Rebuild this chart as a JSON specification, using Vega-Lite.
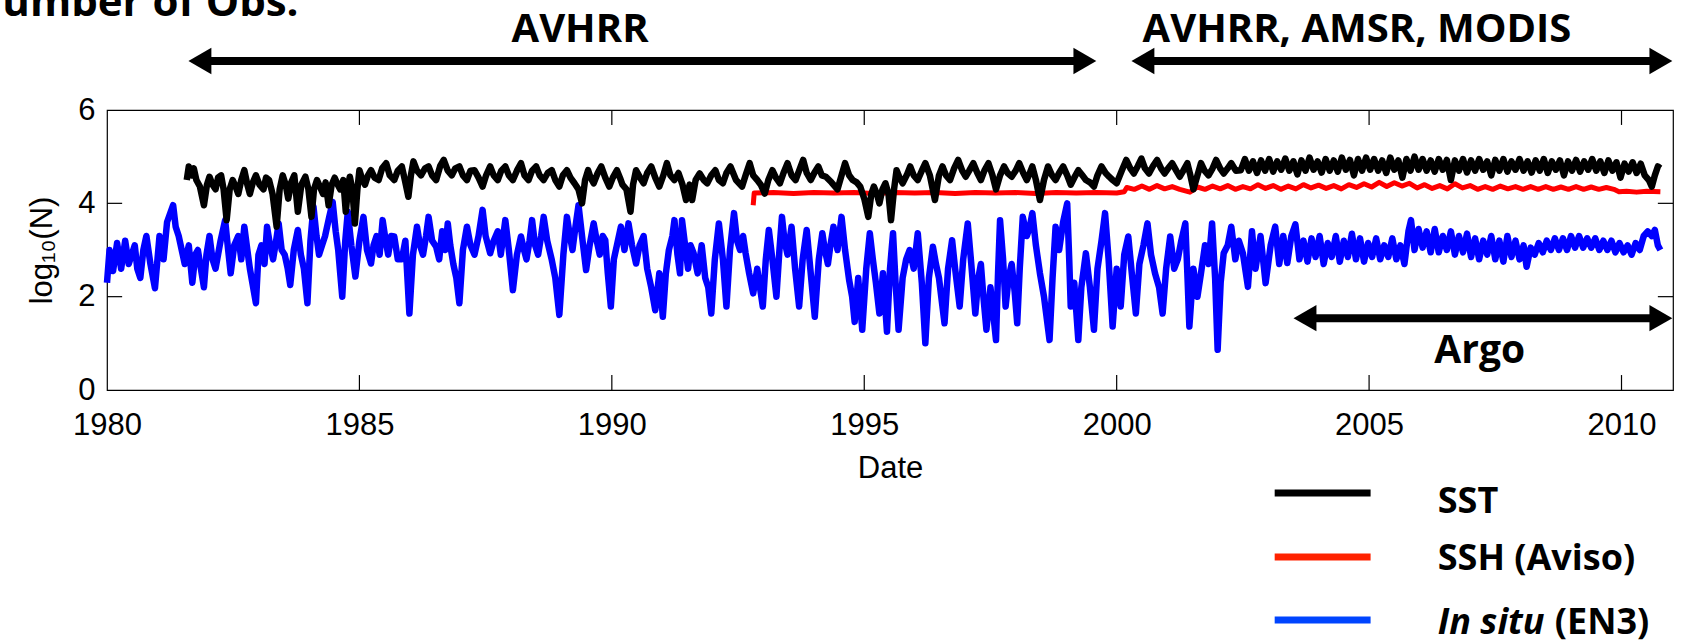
{
"$schema": "https://vega.github.io/schema/vega-lite/v6.json",
"autosize": {"type": "none"},
"width": 1566, "height": 280,
"padding": {"left": 107, "top": 110, "right": 9, "bottom": 251},
"background": "white",
"config": {"view": {"stroke": "black", "strokeWidth": 1.2}},
"datasets": {
"insitu": [
{"t":1980.0,"v":2.3},{"t":1980.05,"v":3.0},{"t":1980.12,"v":2.55},{"t":1980.2,"v":3.15},{"t":1980.28,"v":2.6},{"t":1980.36,"v":3.2},{"t":1980.43,"v":2.7},{"t":1980.55,"v":3.1},{"t":1980.6,"v":2.6},{"t":1980.66,"v":2.4},{"t":1980.72,"v":3.0},{"t":1980.78,"v":3.3},{"t":1980.86,"v":2.7},{"t":1980.95,"v":2.18},{"t":1981.04,"v":3.3},{"t":1981.12,"v":2.8},{"t":1981.19,"v":3.6},{"t":1981.31,"v":3.96},{"t":1981.36,"v":3.5},{"t":1981.42,"v":3.3},{"t":1981.48,"v":3.0},{"t":1981.54,"v":2.7},{"t":1981.62,"v":3.1},{"t":1981.69,"v":2.3},{"t":1981.75,"v":2.9},{"t":1981.8,"v":3.0},{"t":1981.86,"v":2.6},{"t":1981.92,"v":2.2},{"t":1981.97,"v":2.9},{"t":1982.03,"v":3.3},{"t":1982.09,"v":2.8},{"t":1982.15,"v":2.6},{"t":1982.25,"v":3.2},{"t":1982.34,"v":3.64},{"t":1982.4,"v":3.0},{"t":1982.45,"v":2.5},{"t":1982.52,"v":3.1},{"t":1982.6,"v":3.3},{"t":1982.66,"v":2.8},{"t":1982.72,"v":3.5},{"t":1982.78,"v":3.0},{"t":1982.83,"v":2.6},{"t":1982.95,"v":1.86},{"t":1983.0,"v":2.9},{"t":1983.06,"v":3.1},{"t":1983.12,"v":2.7},{"t":1983.17,"v":3.5},{"t":1983.23,"v":3.1},{"t":1983.29,"v":2.8},{"t":1983.35,"v":3.2},{"t":1983.4,"v":3.57},{"t":1983.46,"v":3.0},{"t":1983.52,"v":2.9},{"t":1983.58,"v":2.6},{"t":1983.63,"v":2.25},{"t":1983.7,"v":3.0},{"t":1983.78,"v":3.43},{"t":1983.84,"v":2.9},{"t":1983.9,"v":2.6},{"t":1983.97,"v":1.86},{"t":1984.03,"v":3.2},{"t":1984.09,"v":3.93},{"t":1984.15,"v":3.3},{"t":1984.2,"v":2.9},{"t":1984.26,"v":3.1},{"t":1984.32,"v":3.3},{"t":1984.4,"v":3.7},{"t":1984.47,"v":4.03},{"t":1984.53,"v":3.4},{"t":1984.58,"v":3.0},{"t":1984.66,"v":2.0},{"t":1984.72,"v":3.2},{"t":1984.77,"v":3.82},{"t":1984.84,"v":3.1},{"t":1984.92,"v":2.43},{"t":1985.0,"v":3.2},{"t":1985.08,"v":3.71},{"t":1985.15,"v":3.0},{"t":1985.23,"v":2.71},{"t":1985.28,"v":3.1},{"t":1985.34,"v":3.3},{"t":1985.4,"v":2.9},{"t":1985.46,"v":3.64},{"t":1985.52,"v":3.2},{"t":1985.57,"v":2.9},{"t":1985.63,"v":3.3},{"t":1985.69,"v":3.29},{"t":1985.76,"v":2.8},{"t":1985.84,"v":2.8},{"t":1985.91,"v":3.2},{"t":1985.99,"v":1.64},{"t":1986.06,"v":2.9},{"t":1986.14,"v":3.5},{"t":1986.2,"v":3.1},{"t":1986.26,"v":2.9},{"t":1986.32,"v":3.3},{"t":1986.37,"v":3.71},{"t":1986.44,"v":3.2},{"t":1986.52,"v":3.07},{"t":1986.58,"v":2.8},{"t":1986.64,"v":3.4},{"t":1986.7,"v":3.0},{"t":1986.75,"v":3.57},{"t":1986.8,"v":3.1},{"t":1986.86,"v":2.7},{"t":1986.92,"v":2.4},{"t":1986.98,"v":1.86},{"t":1987.05,"v":3.0},{"t":1987.13,"v":3.5},{"t":1987.2,"v":3.1},{"t":1987.28,"v":2.9},{"t":1987.36,"v":3.3},{"t":1987.44,"v":3.86},{"t":1987.5,"v":3.3},{"t":1987.59,"v":2.93},{"t":1987.66,"v":3.2},{"t":1987.74,"v":3.4},{"t":1987.8,"v":2.9},{"t":1987.89,"v":3.64},{"t":1987.96,"v":3.0},{"t":1988.04,"v":2.14},{"t":1988.12,"v":2.9},{"t":1988.2,"v":3.29},{"t":1988.26,"v":3.0},{"t":1988.31,"v":2.8},{"t":1988.37,"v":3.2},{"t":1988.42,"v":3.64},{"t":1988.48,"v":3.1},{"t":1988.54,"v":2.9},{"t":1988.6,"v":3.3},{"t":1988.65,"v":3.71},{"t":1988.72,"v":3.2},{"t":1988.81,"v":2.79},{"t":1988.88,"v":2.4},{"t":1988.96,"v":1.61},{"t":1989.04,"v":2.9},{"t":1989.11,"v":3.71},{"t":1989.17,"v":3.3},{"t":1989.22,"v":3.0},{"t":1989.28,"v":3.5},{"t":1989.34,"v":3.96},{"t":1989.42,"v":3.2},{"t":1989.49,"v":2.57},{"t":1989.56,"v":3.1},{"t":1989.64,"v":3.57},{"t":1989.7,"v":3.2},{"t":1989.76,"v":2.9},{"t":1989.82,"v":3.3},{"t":1989.87,"v":3.21},{"t":1989.92,"v":2.5},{"t":1989.98,"v":1.79},{"t":1990.04,"v":2.8},{"t":1990.1,"v":3.1},{"t":1990.18,"v":3.5},{"t":1990.25,"v":3.0},{"t":1990.33,"v":3.57},{"t":1990.4,"v":3.1},{"t":1990.48,"v":2.71},{"t":1990.55,"v":3.1},{"t":1990.63,"v":3.3},{"t":1990.7,"v":2.6},{"t":1990.78,"v":2.2},{"t":1990.86,"v":1.71},{"t":1990.94,"v":2.5},{"t":1991.01,"v":1.57},{"t":1991.07,"v":2.5},{"t":1991.13,"v":3.0},{"t":1991.2,"v":3.3},{"t":1991.24,"v":3.64},{"t":1991.3,"v":2.9},{"t":1991.35,"v":2.5},{"t":1991.39,"v":3.64},{"t":1991.44,"v":3.2},{"t":1991.51,"v":2.6},{"t":1991.56,"v":3.1},{"t":1991.62,"v":2.93},{"t":1991.7,"v":2.5},{"t":1991.78,"v":3.1},{"t":1991.85,"v":2.4},{"t":1991.91,"v":2.2},{"t":1991.97,"v":1.64},{"t":1992.04,"v":2.8},{"t":1992.12,"v":3.57},{"t":1992.2,"v":2.8},{"t":1992.27,"v":1.79},{"t":1992.34,"v":3.0},{"t":1992.42,"v":3.79},{"t":1992.48,"v":3.2},{"t":1992.54,"v":3.0},{"t":1992.6,"v":3.3},{"t":1992.65,"v":2.93},{"t":1992.72,"v":2.5},{"t":1992.8,"v":2.07},{"t":1992.88,"v":2.6},{"t":1992.99,"v":1.79},{"t":1993.05,"v":2.8},{"t":1993.11,"v":3.43},{"t":1993.18,"v":2.8},{"t":1993.26,"v":2.0},{"t":1993.32,"v":3.0},{"t":1993.37,"v":3.71},{"t":1993.42,"v":3.2},{"t":1993.48,"v":2.9},{"t":1993.56,"v":3.5},{"t":1993.63,"v":2.6},{"t":1993.71,"v":1.79},{"t":1993.78,"v":2.8},{"t":1993.86,"v":3.43},{"t":1993.94,"v":2.5},{"t":1994.02,"v":1.57},{"t":1994.1,"v":2.8},{"t":1994.17,"v":3.36},{"t":1994.22,"v":3.0},{"t":1994.28,"v":2.7},{"t":1994.33,"v":3.1},{"t":1994.39,"v":3.5},{"t":1994.47,"v":3.0},{"t":1994.55,"v":3.71},{"t":1994.62,"v":3.0},{"t":1994.7,"v":2.36},{"t":1994.76,"v":2.0},{"t":1994.81,"v":1.46},{"t":1994.88,"v":2.4},{"t":1994.96,"v":1.29},{"t":1995.04,"v":2.6},{"t":1995.11,"v":3.36},{"t":1995.17,"v":2.8},{"t":1995.23,"v":2.3},{"t":1995.3,"v":1.64},{"t":1995.37,"v":2.5},{"t":1995.45,"v":1.25},{"t":1995.51,"v":2.6},{"t":1995.57,"v":3.36},{"t":1995.62,"v":2.3},{"t":1995.68,"v":1.29},{"t":1995.76,"v":2.4},{"t":1995.83,"v":2.8},{"t":1995.9,"v":3.0},{"t":1995.98,"v":2.6},{"t":1996.06,"v":3.36},{"t":1996.14,"v":2.3},{"t":1996.21,"v":1.0},{"t":1996.28,"v":2.4},{"t":1996.36,"v":3.07},{"t":1996.42,"v":2.7},{"t":1996.48,"v":2.4},{"t":1996.59,"v":1.43},{"t":1996.66,"v":2.6},{"t":1996.74,"v":3.21},{"t":1996.8,"v":2.6},{"t":1996.89,"v":1.79},{"t":1996.96,"v":2.8},{"t":1997.05,"v":3.57},{"t":1997.12,"v":2.7},{"t":1997.2,"v":1.64},{"t":1997.26,"v":2.4},{"t":1997.31,"v":2.7},{"t":1997.36,"v":2.0},{"t":1997.42,"v":1.29},{"t":1997.5,"v":2.2},{"t":1997.61,"v":1.07},{"t":1997.65,"v":2.5},{"t":1997.69,"v":3.64},{"t":1997.75,"v":2.8},{"t":1997.8,"v":1.79},{"t":1997.86,"v":2.4},{"t":1997.92,"v":2.7},{"t":1997.98,"v":2.1},{"t":1998.03,"v":1.43},{"t":1998.08,"v":2.6},{"t":1998.14,"v":3.71},{"t":1998.22,"v":3.3},{"t":1998.28,"v":3.5},{"t":1998.33,"v":3.79},{"t":1998.4,"v":3.1},{"t":1998.48,"v":2.5},{"t":1998.56,"v":2.0},{"t":1998.67,"v":1.07},{"t":1998.73,"v":2.4},{"t":1998.79,"v":3.5},{"t":1998.86,"v":3.0},{"t":1998.94,"v":3.6},{"t":1999.02,"v":4.0},{"t":1999.06,"v":2.8},{"t":1999.09,"v":1.79},{"t":1999.16,"v":2.3},{"t":1999.24,"v":1.07},{"t":1999.3,"v":2.2},{"t":1999.39,"v":2.93},{"t":1999.47,"v":2.2},{"t":1999.55,"v":1.29},{"t":1999.62,"v":2.6},{"t":1999.7,"v":3.2},{"t":1999.77,"v":3.79},{"t":1999.84,"v":2.8},{"t":1999.92,"v":1.36},{"t":2000.0,"v":2.6},{"t":2000.08,"v":1.79},{"t":2000.15,"v":2.9},{"t":2000.23,"v":3.29},{"t":2000.3,"v":2.5},{"t":2000.38,"v":1.64},{"t":2000.45,"v":2.7},{"t":2000.53,"v":3.1},{"t":2000.61,"v":3.57},{"t":2000.68,"v":2.9},{"t":2000.76,"v":2.5},{"t":2000.84,"v":2.2},{"t":2000.91,"v":1.64},{"t":2000.98,"v":2.6},{"t":2001.06,"v":3.29},{"t":2001.14,"v":2.6},{"t":2001.21,"v":2.8},{"t":2001.28,"v":3.2},{"t":2001.36,"v":3.57},{"t":2001.4,"v":2.5},{"t":2001.44,"v":1.36},{"t":2001.52,"v":2.6},{"t":2001.6,"v":2.0},{"t":2001.67,"v":2.5},{"t":2001.75,"v":3.1},{"t":2001.82,"v":2.7},{"t":2001.89,"v":3.57},{"t":2001.95,"v":2.4},{"t":2002.0,"v":0.86},{"t":2002.06,"v":2.3},{"t":2002.12,"v":2.93},{"t":2002.2,"v":3.1},{"t":2002.27,"v":3.5},{"t":2002.35,"v":2.8},{"t":2002.42,"v":3.2},{"t":2002.5,"v":2.93},
{"t":2002.6,"v":2.21},{"t":2002.68,"v":3.4},{"t":2002.75,"v":2.6},{"t":2002.85,"v":3.3},{"t":2002.95,"v":2.29},{"t":2003.05,"v":3.1},{"t":2003.14,"v":3.5},{"t":2003.22,"v":2.7},{"t":2003.3,"v":3.3},{"t":2003.38,"v":2.72},{"t":2003.46,"v":3.3},{"t":2003.54,"v":3.55},{"t":2003.62,"v":2.8},{"t":2003.7,"v":3.2},{"t":2003.78,"v":2.75},{"t":2003.86,"v":3.25},{"t":2003.94,"v":2.85},{"t":2004.02,"v":3.3},{"t":2004.1,"v":2.7},{"t":2004.18,"v":3.15},{"t":2004.26,"v":2.85},{"t":2004.34,"v":3.3},{"t":2004.42,"v":2.75},{"t":2004.5,"v":3.2},{"t":2004.58,"v":2.85},{"t":2004.66,"v":3.35},{"t":2004.74,"v":2.8},{"t":2004.82,"v":3.25},{"t":2004.9,"v":2.75},{"t":2004.98,"v":3.15},{"t":2005.06,"v":2.85},{"t":2005.14,"v":3.25},{"t":2005.22,"v":2.8},{"t":2005.3,"v":3.1},{"t":2005.38,"v":2.85},{"t":2005.46,"v":3.25},{"t":2005.54,"v":2.8},{"t":2005.62,"v":3.1},{"t":2005.7,"v":2.7},{"t":2005.78,"v":3.4},{"t":2005.83,"v":3.64},{"t":2005.9,"v":3.0},{"t":2005.98,"v":3.45},{"t":2006.06,"v":3.05},{"t":2006.14,"v":3.4},{"t":2006.22,"v":2.95},{"t":2006.3,"v":3.45},{"t":2006.38,"v":2.95},{"t":2006.46,"v":3.3},{"t":2006.54,"v":3.0},{"t":2006.62,"v":3.4},{"t":2006.7,"v":2.9},{"t":2006.78,"v":3.3},{"t":2006.86,"v":2.95},{"t":2006.94,"v":3.35},{"t":2007.02,"v":2.85},{"t":2007.1,"v":3.25},{"t":2007.18,"v":2.8},{"t":2007.26,"v":3.2},{"t":2007.34,"v":2.9},{"t":2007.42,"v":3.3},{"t":2007.5,"v":2.8},{"t":2007.58,"v":3.2},{"t":2007.66,"v":2.75},{"t":2007.74,"v":3.3},{"t":2007.82,"v":2.85},{"t":2007.9,"v":3.2},{"t":2007.98,"v":2.8},{"t":2008.06,"v":3.1},{"t":2008.12,"v":2.64},{"t":2008.2,"v":3.05},{"t":2008.28,"v":2.9},{"t":2008.36,"v":3.15},{"t":2008.44,"v":2.95},{"t":2008.52,"v":3.2},{"t":2008.6,"v":3.0},{"t":2008.68,"v":3.25},{"t":2008.76,"v":3.0},{"t":2008.84,"v":3.25},{"t":2008.92,"v":3.0},{"t":2009.0,"v":3.3},{"t":2009.08,"v":3.05},{"t":2009.16,"v":3.3},{"t":2009.24,"v":3.05},{"t":2009.32,"v":3.25},{"t":2009.4,"v":3.05},{"t":2009.48,"v":3.25},{"t":2009.56,"v":3.0},{"t":2009.64,"v":3.2},{"t":2009.72,"v":3.0},{"t":2009.8,"v":3.2},{"t":2009.88,"v":2.95},{"t":2009.96,"v":3.15},{"t":2010.04,"v":2.95},{"t":2010.12,"v":3.1},{"t":2010.2,"v":2.9},{"t":2010.28,"v":3.15},{"t":2010.36,"v":3.0},{"t":2010.44,"v":3.3},{"t":2010.52,"v":3.4},{"t":2010.6,"v":3.3},{"t":2010.66,"v":3.43},{"t":2010.72,"v":3.1},{"t":2010.77,"v":3.0}
],
"ssh": [
{"t":1992.8,"v":3.96},{"t":1992.82,"v":4.22},{"t":1993.2,"v":4.23},{"t":1993.6,"v":4.21},{"t":1994.0,"v":4.23},{"t":1994.4,"v":4.22},{"t":1994.8,"v":4.23},{"t":1995.2,"v":4.21},{"t":1995.6,"v":4.23},{"t":1996.0,"v":4.22},{"t":1996.4,"v":4.23},{"t":1996.8,"v":4.21},{"t":1997.2,"v":4.23},{"t":1997.6,"v":4.22},{"t":1998.0,"v":4.23},{"t":1998.4,"v":4.21},{"t":1998.8,"v":4.23},{"t":1999.2,"v":4.22},{"t":1999.6,"v":4.23},{"t":2000.0,"v":4.22},{"t":2000.15,"v":4.25},{"t":2000.2,"v":4.34},{"t":2000.35,"v":4.3},{"t":2000.5,"v":4.37},{"t":2000.65,"v":4.3},{"t":2000.8,"v":4.38},{"t":2000.95,"v":4.31},{"t":2001.1,"v":4.36},{"t":2001.25,"v":4.3},{"t":2001.45,"v":4.24},{"t":2001.6,"v":4.35},{"t":2001.75,"v":4.3},{"t":2001.9,"v":4.37},{"t":2002.05,"v":4.31},{"t":2002.2,"v":4.38},{"t":2002.35,"v":4.3},{"t":2002.5,"v":4.36},{"t":2002.65,"v":4.31},{"t":2002.8,"v":4.4},{"t":2002.95,"v":4.32},{"t":2003.1,"v":4.38},{"t":2003.25,"v":4.3},{"t":2003.4,"v":4.37},{"t":2003.55,"v":4.31},{"t":2003.7,"v":4.4},{"t":2003.85,"v":4.33},{"t":2004.0,"v":4.39},{"t":2004.15,"v":4.32},{"t":2004.3,"v":4.38},{"t":2004.45,"v":4.31},{"t":2004.6,"v":4.4},{"t":2004.75,"v":4.34},{"t":2004.9,"v":4.42},{"t":2005.05,"v":4.35},{"t":2005.2,"v":4.45},{"t":2005.35,"v":4.36},{"t":2005.5,"v":4.44},{"t":2005.65,"v":4.37},{"t":2005.8,"v":4.43},{"t":2005.95,"v":4.33},{"t":2006.1,"v":4.4},{"t":2006.25,"v":4.32},{"t":2006.4,"v":4.38},{"t":2006.55,"v":4.31},{"t":2006.7,"v":4.42},{"t":2006.85,"v":4.33},{"t":2007.0,"v":4.38},{"t":2007.15,"v":4.3},{"t":2007.3,"v":4.36},{"t":2007.45,"v":4.3},{"t":2007.6,"v":4.37},{"t":2007.75,"v":4.31},{"t":2007.9,"v":4.36},{"t":2008.05,"v":4.3},{"t":2008.2,"v":4.36},{"t":2008.35,"v":4.3},{"t":2008.5,"v":4.36},{"t":2008.65,"v":4.3},{"t":2008.8,"v":4.35},{"t":2008.95,"v":4.3},{"t":2009.1,"v":4.36},{"t":2009.25,"v":4.3},{"t":2009.4,"v":4.35},{"t":2009.55,"v":4.3},{"t":2009.7,"v":4.34},{"t":2009.85,"v":4.3},{"t":2009.95,"v":4.25},{"t":2010.1,"v":4.26},{"t":2010.3,"v":4.24},{"t":2010.5,"v":4.26},{"t":2010.77,"v":4.25}
],
"sst": [
{"t":1981.58,"v":4.5},{"t":1981.62,"v":4.79},{"t":1981.68,"v":4.6},{"t":1981.72,"v":4.75},{"t":1981.77,"v":4.5},{"t":1981.84,"v":4.36},{"t":1981.92,"v":3.96},{"t":1981.98,"v":4.4},{"t":1982.03,"v":4.57},{"t":1982.09,"v":4.4},{"t":1982.15,"v":4.3},{"t":1982.2,"v":4.55},{"t":1982.26,"v":4.6},{"t":1982.31,"v":4.3},{"t":1982.37,"v":3.64},{"t":1982.43,"v":4.3},{"t":1982.49,"v":4.5},{"t":1982.55,"v":4.35},{"t":1982.6,"v":4.2},{"t":1982.66,"v":4.5},{"t":1982.72,"v":4.71},{"t":1982.78,"v":4.4},{"t":1982.83,"v":4.2},{"t":1982.89,"v":4.45},{"t":1982.95,"v":4.6},{"t":1983.02,"v":4.4},{"t":1983.1,"v":4.3},{"t":1983.15,"v":4.55},{"t":1983.21,"v":4.5},{"t":1983.28,"v":4.2},{"t":1983.36,"v":3.5},{"t":1983.42,"v":4.3},{"t":1983.48,"v":4.6},{"t":1983.54,"v":4.4},{"t":1983.59,"v":4.1},{"t":1983.65,"v":4.45},{"t":1983.71,"v":4.6},{"t":1983.78,"v":3.82},{"t":1983.85,"v":4.4},{"t":1983.93,"v":4.57},{"t":1983.99,"v":4.3},{"t":1984.05,"v":3.71},{"t":1984.1,"v":4.3},{"t":1984.16,"v":4.5},{"t":1984.22,"v":4.35},{"t":1984.28,"v":4.2},{"t":1984.33,"v":4.45},{"t":1984.39,"v":3.96},{"t":1984.45,"v":4.4},{"t":1984.51,"v":4.55},{"t":1984.57,"v":4.4},{"t":1984.62,"v":4.3},{"t":1984.68,"v":4.5},{"t":1984.73,"v":3.82},{"t":1984.78,"v":4.4},{"t":1984.81,"v":4.57},{"t":1984.86,"v":4.3},{"t":1984.91,"v":3.57},{"t":1984.96,"v":4.3},{"t":1985.0,"v":4.71},{"t":1985.06,"v":4.5},{"t":1985.11,"v":4.4},{"t":1985.17,"v":4.6},{"t":1985.23,"v":4.71},{"t":1985.3,"v":4.55},{"t":1985.38,"v":4.5},{"t":1985.45,"v":4.75},{"t":1985.53,"v":4.86},{"t":1985.6,"v":4.6},{"t":1985.69,"v":4.5},{"t":1985.76,"v":4.7},{"t":1985.84,"v":4.79},{"t":1985.9,"v":4.5},{"t":1985.97,"v":4.14},{"t":1986.02,"v":4.6},{"t":1986.07,"v":4.9},{"t":1986.14,"v":4.7},{"t":1986.22,"v":4.6},{"t":1986.3,"v":4.75},{"t":1986.37,"v":4.79},{"t":1986.44,"v":4.6},{"t":1986.52,"v":4.5},{"t":1986.6,"v":4.8},{"t":1986.67,"v":4.93},{"t":1986.75,"v":4.7},{"t":1986.83,"v":4.6},{"t":1986.9,"v":4.75},{"t":1986.98,"v":4.79},{"t":1987.05,"v":4.6},{"t":1987.13,"v":4.5},{"t":1987.2,"v":4.7},{"t":1987.28,"v":4.71},{"t":1987.36,"v":4.55},{"t":1987.44,"v":4.36},{"t":1987.51,"v":4.6},{"t":1987.59,"v":4.79},{"t":1987.66,"v":4.6},{"t":1987.74,"v":4.5},{"t":1987.81,"v":4.7},{"t":1987.89,"v":4.79},{"t":1987.96,"v":4.6},{"t":1988.04,"v":4.5},{"t":1988.12,"v":4.7},{"t":1988.2,"v":4.86},{"t":1988.27,"v":4.6},{"t":1988.35,"v":4.5},{"t":1988.42,"v":4.7},{"t":1988.5,"v":4.79},{"t":1988.57,"v":4.6},{"t":1988.65,"v":4.5},{"t":1988.73,"v":4.65},{"t":1988.81,"v":4.71},{"t":1988.88,"v":4.5},{"t":1988.96,"v":4.36},{"t":1989.03,"v":4.6},{"t":1989.11,"v":4.71},{"t":1989.18,"v":4.55},{"t":1989.26,"v":4.43},{"t":1989.34,"v":4.3},{"t":1989.41,"v":4.0},{"t":1989.47,"v":4.5},{"t":1989.53,"v":4.71},{"t":1989.58,"v":4.55},{"t":1989.64,"v":4.43},{"t":1989.72,"v":4.65},{"t":1989.79,"v":4.79},{"t":1989.87,"v":4.55},{"t":1989.95,"v":4.36},{"t":1990.02,"v":4.55},{"t":1990.1,"v":4.71},{"t":1990.16,"v":4.55},{"t":1990.21,"v":4.4},{"t":1990.29,"v":4.3},{"t":1990.37,"v":3.82},{"t":1990.42,"v":4.4},{"t":1990.48,"v":4.71},{"t":1990.56,"v":4.55},{"t":1990.63,"v":4.43},{"t":1990.7,"v":4.65},{"t":1990.78,"v":4.79},{"t":1990.86,"v":4.55},{"t":1990.94,"v":4.36},{"t":1991.02,"v":4.6},{"t":1991.09,"v":4.86},{"t":1991.16,"v":4.6},{"t":1991.24,"v":4.5},{"t":1991.32,"v":4.65},{"t":1991.4,"v":4.4},{"t":1991.47,"v":4.07},{"t":1991.54,"v":4.4},{"t":1991.59,"v":4.07},{"t":1991.66,"v":4.5},{"t":1991.74,"v":4.64},{"t":1991.82,"v":4.5},{"t":1991.89,"v":4.43},{"t":1991.97,"v":4.6},{"t":1992.05,"v":4.71},{"t":1992.12,"v":4.5},{"t":1992.2,"v":4.43},{"t":1992.27,"v":4.65},{"t":1992.35,"v":4.79},{"t":1992.46,"v":4.5},{"t":1992.58,"v":4.36},{"t":1992.65,"v":4.6},{"t":1992.73,"v":4.86},{"t":1992.8,"v":4.6},{"t":1992.88,"v":4.5},{"t":1992.95,"v":4.4},{"t":1993.03,"v":4.21},{"t":1993.1,"v":4.5},{"t":1993.18,"v":4.71},{"t":1993.25,"v":4.55},{"t":1993.33,"v":4.43},{"t":1993.4,"v":4.65},{"t":1993.48,"v":4.86},{"t":1993.56,"v":4.6},{"t":1993.64,"v":4.5},{"t":1993.71,"v":4.7},{"t":1993.79,"v":4.93},{"t":1993.86,"v":4.65},{"t":1993.94,"v":4.5},{"t":1994.01,"v":4.65},{"t":1994.09,"v":4.79},{"t":1994.16,"v":4.6},{"t":1994.24,"v":4.57},{"t":1994.35,"v":4.45},{"t":1994.47,"v":4.3},{"t":1994.55,"v":4.6},{"t":1994.62,"v":4.86},{"t":1994.7,"v":4.6},{"t":1994.77,"v":4.5},{"t":1994.85,"v":4.45},{"t":1994.92,"v":4.36},{"t":1995.0,"v":4.1},{"t":1995.08,"v":3.71},{"t":1995.14,"v":4.2},{"t":1995.19,"v":4.36},{"t":1995.25,"v":4.2},{"t":1995.3,"v":4.0},{"t":1995.36,"v":4.3},{"t":1995.42,"v":4.43},{"t":1995.48,"v":4.2},{"t":1995.53,"v":3.64},{"t":1995.59,"v":4.3},{"t":1995.64,"v":4.71},{"t":1995.7,"v":4.55},{"t":1995.76,"v":4.43},{"t":1995.84,"v":4.6},{"t":1995.91,"v":4.79},{"t":1995.98,"v":4.6},{"t":1996.06,"v":4.5},{"t":1996.14,"v":4.7},{"t":1996.21,"v":4.86},{"t":1996.3,"v":4.6},{"t":1996.4,"v":4.07},{"t":1996.48,"v":4.6},{"t":1996.55,"v":4.79},{"t":1996.62,"v":4.6},{"t":1996.7,"v":4.5},{"t":1996.78,"v":4.75},{"t":1996.86,"v":4.93},{"t":1996.94,"v":4.7},{"t":1997.01,"v":4.57},{"t":1997.08,"v":4.7},{"t":1997.16,"v":4.86},{"t":1997.24,"v":4.65},{"t":1997.31,"v":4.5},{"t":1997.38,"v":4.7},{"t":1997.46,"v":4.86},{"t":1997.54,"v":4.6},{"t":1997.61,"v":4.3},{"t":1997.69,"v":4.6},{"t":1997.77,"v":4.79},{"t":1997.84,"v":4.65},{"t":1997.92,"v":4.57},{"t":1998.0,"v":4.7},{"t":1998.07,"v":4.86},{"t":1998.15,"v":4.65},{"t":1998.22,"v":4.5},{"t":1998.28,"v":4.65},{"t":1998.33,"v":4.79},{"t":1998.4,"v":4.5},{"t":1998.48,"v":4.07},{"t":1998.56,"v":4.5},{"t":1998.64,"v":4.79},{"t":1998.72,"v":4.6},{"t":1998.79,"v":4.5},{"t":1998.86,"v":4.65},{"t":1998.94,"v":4.79},{"t":1999.02,"v":4.6},{"t":1999.09,"v":4.4},{"t":1999.16,"v":4.55},{"t":1999.24,"v":4.71},{"t":1999.32,"v":4.6},{"t":1999.39,"v":4.5},{"t":1999.47,"v":4.45},{"t":1999.55,"v":4.36},{"t":1999.62,"v":4.6},{"t":1999.7,"v":4.79},{"t":1999.78,"v":4.65},{"t":1999.85,"v":4.57},{"t":1999.92,"v":4.5},{"t":2000.0,"v":4.43},{"t":2000.1,"v":4.7},{"t":2000.19,"v":4.93},{"t":2000.27,"v":4.75},{"t":2000.34,"v":4.64},{"t":2000.42,"v":4.8},{"t":2000.49,"v":4.96},{"t":2000.56,"v":4.75},{"t":2000.64,"v":4.64},{"t":2000.72,"v":4.8},{"t":2000.8,"v":4.93},{"t":2000.88,"v":4.75},{"t":2000.95,"v":4.64},{"t":2001.02,"v":4.75},{"t":2001.1,"v":4.86},{"t":2001.18,"v":4.7},{"t":2001.25,"v":4.57},{"t":2001.32,"v":4.7},{"t":2001.4,"v":4.86},{"t":2001.46,"v":4.6},{"t":2001.52,"v":4.3},{"t":2001.6,"v":4.6},{"t":2001.67,"v":4.86},{"t":2001.74,"v":4.7},{"t":2001.82,"v":4.6},{"t":2001.9,"v":4.75},{"t":2001.97,"v":4.93},{"t":2002.05,"v":4.75},{"t":2002.12,"v":4.64},{"t":2002.2,"v":4.75},{"t":2002.27,"v":4.86},{"t":2002.36,"v":4.7},{"t":2002.46,"v":4.71},
{"t":2002.54,"v":4.95},{"t":2002.62,"v":4.7},{"t":2002.7,"v":4.9},{"t":2002.78,"v":4.65},{"t":2002.86,"v":4.92},{"t":2002.94,"v":4.7},{"t":2003.02,"v":4.95},{"t":2003.1,"v":4.68},{"t":2003.18,"v":4.9},{"t":2003.26,"v":4.72},{"t":2003.34,"v":4.96},{"t":2003.42,"v":4.7},{"t":2003.5,"v":4.9},{"t":2003.58,"v":4.62},{"t":2003.66,"v":4.92},{"t":2003.74,"v":4.7},{"t":2003.82,"v":4.98},{"t":2003.9,"v":4.72},{"t":2003.98,"v":4.9},{"t":2004.06,"v":4.66},{"t":2004.14,"v":4.95},{"t":2004.22,"v":4.7},{"t":2004.3,"v":4.92},{"t":2004.38,"v":4.68},{"t":2004.46,"v":4.98},{"t":2004.54,"v":4.72},{"t":2004.62,"v":4.93},{"t":2004.7,"v":4.6},{"t":2004.78,"v":4.95},{"t":2004.86,"v":4.7},{"t":2004.94,"v":4.98},{"t":2005.02,"v":4.72},{"t":2005.1,"v":4.95},{"t":2005.18,"v":4.7},{"t":2005.26,"v":4.92},{"t":2005.34,"v":4.65},{"t":2005.42,"v":4.98},{"t":2005.5,"v":4.72},{"t":2005.58,"v":4.92},{"t":2005.66,"v":4.55},{"t":2005.74,"v":4.95},{"t":2005.82,"v":4.7},{"t":2005.9,"v":5.0},{"t":2005.98,"v":4.72},{"t":2006.06,"v":4.95},{"t":2006.14,"v":4.7},{"t":2006.22,"v":4.92},{"t":2006.3,"v":4.68},{"t":2006.38,"v":4.95},{"t":2006.46,"v":4.72},{"t":2006.54,"v":4.93},{"t":2006.62,"v":4.5},{"t":2006.7,"v":4.92},{"t":2006.78,"v":4.7},{"t":2006.86,"v":4.95},{"t":2006.94,"v":4.66},{"t":2007.02,"v":4.92},{"t":2007.1,"v":4.7},{"t":2007.18,"v":4.95},{"t":2007.26,"v":4.72},{"t":2007.34,"v":4.9},{"t":2007.42,"v":4.6},{"t":2007.5,"v":4.93},{"t":2007.58,"v":4.7},{"t":2007.66,"v":4.95},{"t":2007.74,"v":4.68},{"t":2007.82,"v":4.9},{"t":2007.9,"v":4.72},{"t":2007.98,"v":4.95},{"t":2008.06,"v":4.7},{"t":2008.14,"v":4.9},{"t":2008.22,"v":4.66},{"t":2008.3,"v":4.92},{"t":2008.38,"v":4.7},{"t":2008.46,"v":4.95},{"t":2008.54,"v":4.65},{"t":2008.62,"v":4.9},{"t":2008.7,"v":4.72},{"t":2008.78,"v":4.92},{"t":2008.86,"v":4.6},{"t":2008.94,"v":4.9},{"t":2009.02,"v":4.7},{"t":2009.1,"v":4.93},{"t":2009.18,"v":4.68},{"t":2009.26,"v":4.9},{"t":2009.34,"v":4.72},{"t":2009.42,"v":4.95},{"t":2009.5,"v":4.7},{"t":2009.58,"v":4.9},{"t":2009.66,"v":4.65},{"t":2009.74,"v":4.92},{"t":2009.82,"v":4.7},{"t":2009.9,"v":4.88},{"t":2009.98,"v":4.55},{"t":2010.06,"v":4.85},{"t":2010.14,"v":4.68},{"t":2010.22,"v":4.88},{"t":2010.3,"v":4.65},{"t":2010.38,"v":4.85},{"t":2010.46,"v":4.6},{"t":2010.54,"v":4.5},{"t":2010.6,"v":4.36},{"t":2010.66,"v":4.6},{"t":2010.72,"v":4.79},{"t":2010.77,"v":4.75}
],
"ticks": [
{"t":1985,"t2":1985,"v":0,"v2":0.32},{"t":1990,"t2":1990,"v":0,"v2":0.32},{"t":1995,"t2":1995,"v":0,"v2":0.32},{"t":2000,"t2":2000,"v":0,"v2":0.32},{"t":2005,"t2":2005,"v":0,"v2":0.32},{"t":2010,"t2":2010,"v":0,"v2":0.32},
{"t":1985,"t2":1985,"v":6,"v2":5.68},{"t":1990,"t2":1990,"v":6,"v2":5.68},{"t":1995,"t2":1995,"v":6,"v2":5.68},{"t":2000,"t2":2000,"v":6,"v2":5.68},{"t":2005,"t2":2005,"v":6,"v2":5.68},{"t":2010,"t2":2010,"v":6,"v2":5.68},
{"t":1980,"t2":1980.3,"v":2,"v2":2},{"t":1980,"t2":1980.3,"v":4,"v2":4},
{"t":2011.02,"t2":2010.72,"v":2,"v2":2},{"t":2011.02,"t2":2010.72,"v":4,"v2":4}
],
"shafts": [
{"t":1981.84,"t2":1999.37,"v":7.05},{"t":2000.52,"t2":2010.78,"v":7.05},{"t":2003.73,"t2":2010.78,"v":1.54}
],
"heads": [
{"t":1981.84,"v":7.05,"dir":"left"},{"t":1999.37,"v":7.05,"dir":"right"},{"t":2000.52,"v":7.05,"dir":"left"},{"t":2010.78,"v":7.05,"dir":"right"},{"t":2003.73,"v":1.54,"dir":"left"},{"t":2010.78,"v":1.54,"dir":"right"}
],
"labels": [
{"t":1989.37,"v":7.46,"label":"AVHRR"},{"t":2004.76,"v":7.46,"label":"AVHRR, AMSR, MODIS"}
],
"argo": [
{"t":2007.19,"v":0.58,"label":"Argo"}
],
"legendlines": [
{"t":2003.13,"t2":2005.03,"v":-2.207,"s":"SST"},{"t":2003.13,"t2":2005.03,"v":-3.578,"s":"SSH (Aviso)"},{"t":2003.13,"t2":2005.03,"v":-4.928,"s":"In situ (EN3)"}
],
"legendtext": [
{"t":2006.36,"v":-2.636,"label":"SST"},{"t":2006.36,"v":-3.857,"label":"SSH (Aviso)"},{"t":2008.68,"v":-5.228,"label":"(EN3)"}
],
"legenditalic": [
{"t":2006.36,"v":-5.228,"label":"In situ"}
],
"title": [
{"t":1977.25,"v":8.01,"label":"Number of Obs."}
]
},
"encoding": {
"x": {"field": "t", "type": "quantitative",
"scale": {"domain": [1980, 2011.02], "nice": false, "zero": false},
"axis": {"values": [1980, 1985, 1990, 1995, 2000, 2005, 2010], "format": "d", "title": "Date", "grid": false, "ticks": false, "tickSize": 0, "domain": false, "labelFont": "Liberation Sans", "labelFontSize": 31, "labelColor": "black", "labelPadding": 20, "labelFlush": false, "labelOverlap": false, "labelBound": false, "titleFont": "Liberation Sans", "titleFontSize": 31, "titleFontWeight": "normal", "titleColor": "black", "titlePadding": 13}},
"y": {"field": "v", "type": "quantitative",
"scale": {"domain": [0, 6], "nice": false, "zero": false},
"axis": {"values": [0, 2, 4, 6], "format": "d", "title": "log₁₀(N)", "grid": false, "ticks": false, "tickSize": 0, "domain": false, "labelFont": "Liberation Sans", "labelFontSize": 31, "labelColor": "black", "labelPadding": 12, "labelFlush": false, "labelOverlap": false, "labelBound": false, "titleFont": "Liberation Sans", "titleFontSize": 31, "titleFontWeight": "normal", "titleColor": "black", "titlePadding": 19}}
},
"layer": [
{"data": {"name": "insitu"}, "mark": {"type": "line", "color": "#0000ff", "strokeWidth": 6.5, "strokeJoin": "round"}},
{"data": {"name": "ssh"}, "mark": {"type": "line", "color": "#ff0000", "strokeWidth": 5, "strokeJoin": "round"}},
{"data": {"name": "sst"}, "mark": {"type": "line", "color": "#000000", "strokeWidth": 6.5, "strokeJoin": "round"}},
{"data": {"name": "ticks"}, "mark": {"type": "rule", "color": "black", "strokeWidth": 1.2},
 "encoding": {"x2": {"field": "t2"}, "y2": {"field": "v2"}}},
{"data": {"name": "shafts"}, "mark": {"type": "rule", "color": "black", "strokeWidth": 8},
 "encoding": {"x2": {"field": "t2"}}},
{"data": {"name": "heads"}, "mark": {"type": "point", "filled": true, "color": "black", "opacity": 1, "size": 700, "strokeWidth": 0},
 "encoding": {"shape": {"field": "dir", "type": "nominal", "scale": {"domain": ["left", "right"], "range": ["triangle-left", "triangle-right"]}, "legend": null}}},
{"data": {"name": "labels"}, "mark": {"type": "text", "font": "Open Sans", "fontWeight": "bold", "fontSize": 40, "align": "center", "baseline": "alphabetic", "color": "black"},
 "encoding": {"text": {"field": "label"}}},
{"data": {"name": "argo"}, "mark": {"type": "text", "font": "Open Sans", "fontWeight": "bold", "fontSize": 39, "align": "center", "baseline": "alphabetic", "color": "black"},
 "encoding": {"text": {"field": "label"}}},
{"data": {"name": "legendlines"}, "mark": {"type": "rule", "strokeWidth": 7},
 "encoding": {"x2": {"field": "t2"}, "color": {"field": "s", "type": "nominal", "scale": {"domain": ["SST", "SSH (Aviso)", "In situ (EN3)"], "range": ["#000000", "#ff2200", "#0044ff"]}, "legend": null}}},
{"data": {"name": "legendtext"}, "mark": {"type": "text", "font": "Open Sans", "fontWeight": "bold", "fontSize": 36, "align": "left", "baseline": "alphabetic", "color": "black"},
 "encoding": {"text": {"field": "label"}}},
{"data": {"name": "legenditalic"}, "mark": {"type": "text", "font": "Open Sans", "fontWeight": "bold", "fontStyle": "italic", "fontSize": 36, "align": "left", "baseline": "alphabetic", "color": "black"},
 "encoding": {"text": {"field": "label"}}},
{"data": {"name": "title"}, "mark": {"type": "text", "font": "Open Sans", "fontWeight": "bold", "fontSize": 42, "align": "left", "baseline": "alphabetic", "color": "black"},
 "encoding": {"text": {"field": "label"}}}
]
}
